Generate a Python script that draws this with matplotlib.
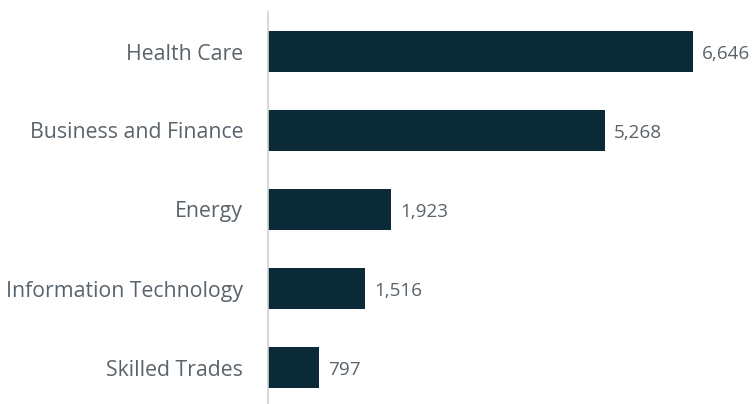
import matplotlib
matplotlib.use("Agg")
import matplotlib.pyplot as plt

categories = ["Health Care", "Business and Finance", "Energy",
              "Information Technology", "Skilled Trades"]
values = [6646, 5268, 1923, 1516, 797]

bar_color = "#0b2a37"
text_color = "#59636b"

plt.rcParams["font.family"] = ["Open Sans", "DejaVu Sans"]

fig = plt.figure(figsize=(7.53, 4.04), dpi=100)
# axes placed in pixel terms: zero line at x=268, top of axis at y=12
ax = fig.add_axes([268 / 753, (404 - 407) / 404, 447.6 / 753, 395 / 404])

pos = list(range(len(categories)))
ax.barh(pos, values, height=0.52, color=bar_color)
ax.set_ylim(len(categories) - 0.5, -0.5)
ax.set_xlim(0, 7000)

for p, v in zip(pos, values):
    ax.annotate(f"{v:,}", xy=(v, p), xytext=(6.5, -1.5), textcoords="offset points",
                va="center", ha="left", fontsize=13.6, color=text_color)

ax.set_yticks(pos)
ax.set_yticklabels(categories, fontsize=15.3, color=text_color)
ax.tick_params(axis="y", length=0, pad=18)
ax.set_xticks([])

for side in ["top", "right", "bottom"]:
    ax.spines[side].set_visible(False)
ax.spines["left"].set_color("#d0d0d0")
ax.spines["left"].set_linewidth(1.2)

fig.savefig("out.png", dpi=100)
